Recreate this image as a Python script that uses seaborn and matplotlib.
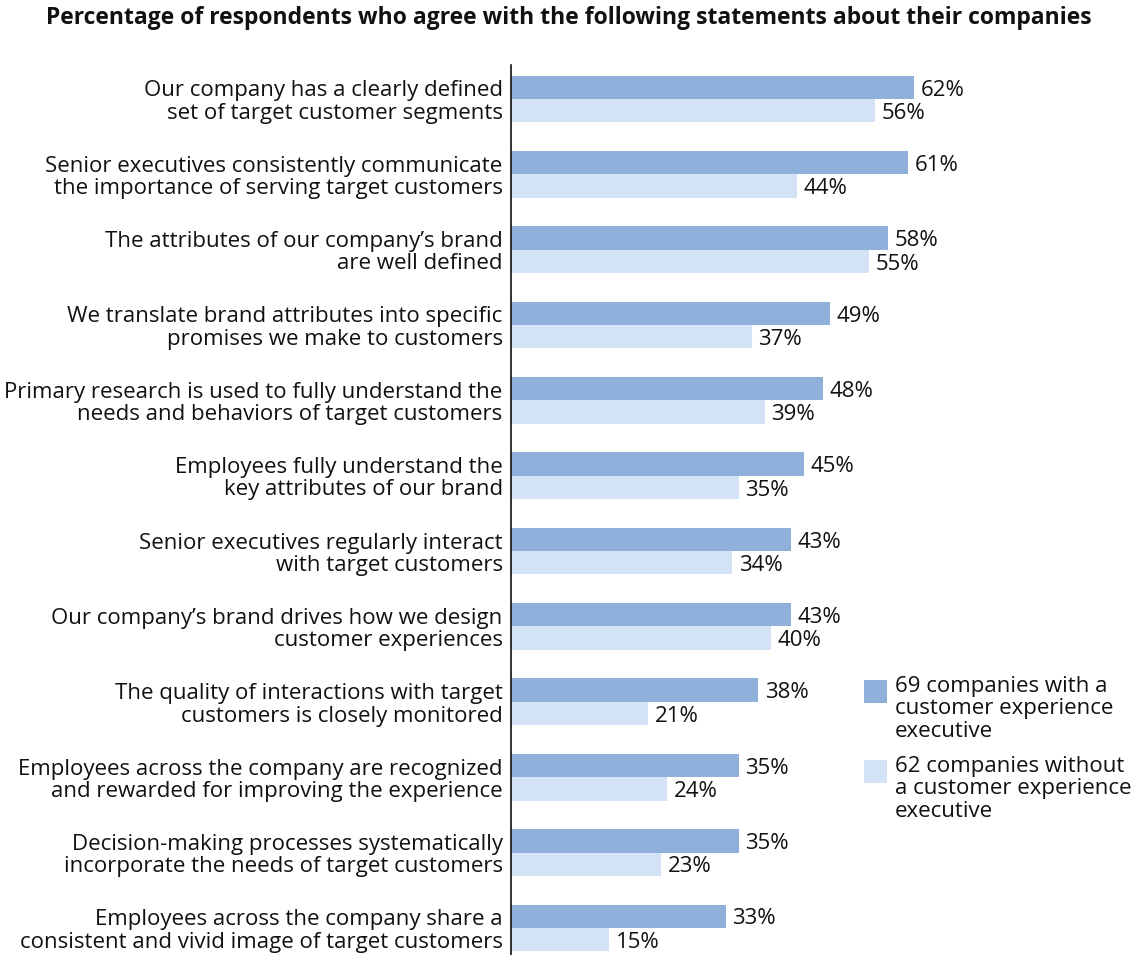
import matplotlib
matplotlib.use("Agg")
import matplotlib.pyplot as plt
from matplotlib.patches import Rectangle
import seaborn as sns
import pandas as pd

statements = [
    "Our company has a clearly defined\nset of target customer segments",
    "Senior executives consistently communicate\nthe importance of serving target customers",
    "The attributes of our company\u2019s brand\nare well defined",
    "We translate brand attributes into specific\npromises we make to customers",
    "Primary research is used to fully understand the\nneeds and behaviors of target customers",
    "Employees fully understand the\nkey attributes of our brand",
    "Senior executives regularly interact\nwith target customers",
    "Our company\u2019s brand drives how we design\ncustomer experiences",
    "The quality of interactions with target\ncustomers is closely monitored",
    "Employees across the company are recognized\nand rewarded for improving the experience",
    "Decision-making processes systematically\nincorporate the needs of target customers",
    "Employees across the company share a\nconsistent and vivid image of target customers",
]
with_exec = [62, 61, 58, 49, 48, 45, 43, 43, 38, 35, 35, 33]
without_exec = [56, 44, 55, 37, 39, 35, 34, 40, 21, 24, 23, 15]
series_names = [
    "69 companies with a\ncustomer experience\nexecutive",
    "62 companies without\na customer experience\nexecutive",
]
colors = ["#8FB0DB", "#D3E2F5"]
title = "Percentage of respondents who agree with the following statements about their companies"

df = pd.DataFrame({
    "statement": statements * 2,
    "value": with_exec + without_exec,
    "group": [series_names[0]] * len(statements) + [series_names[1]] * len(statements),
})

sns.set_theme(style="white")
plt.rcParams["font.family"] = ["Open Sans", "DejaVu Sans"]

FS = 16
W, H = 1138, 955
fig = plt.figure(figsize=(W / 100, H / 100), dpi=100)
ax = fig.add_axes([511 / W, 0, (W - 511) / W, (H - 65) / H])

sns.barplot(data=df, y="statement", x="value", hue="group", palette=colors,
            saturation=1, width=0.62, orient="h", legend=False,
            linewidth=0, edgecolor="none", ax=ax)

# percentage labels just past each bar end
for cont in ax.containers:
    for t in ax.bar_label(cont, fmt="%d%%", padding=5, fontsize=FS, color="#111111"):
        t.xyann = (5, -2)

ax.set_xlim(0, (W - 511) / 6.5)
ax.set_ylim(11.36, -0.45)
ax.set_xlabel("")
ax.set_ylabel("")
ax.set_xticks([])
for s in ["top", "right", "bottom"]:
    ax.spines[s].set_visible(False)
ax.spines["left"].set_color("#111111")
ax.spines["left"].set_linewidth(1.2)
ax.tick_params(axis="y", length=0, pad=6, labelsize=FS, labelcolor="#111111")
for lbl in ax.get_yticklabels():
    lbl.set_horizontalalignment("right")
    lbl.set_multialignment("right")
    lbl.set_linespacing(1.08)

fig.text(569 / W, 1 - 18 / H, title, ha="center", va="center",
         fontsize=16.5, fontweight="bold", color="#111111")

# legend: square swatch beside a three-line label
for i, (name, c) in enumerate(zip(series_names, colors)):
    top = 680 + i * 80
    fig.patches.append(Rectangle((864 / W, 1 - (top + 23) / H), 23 / W, 23 / H,
                                 transform=fig.transFigure, facecolor=c, edgecolor="none"))
    fig.text(895 / W, 1 - (top - 4) / H, name, ha="left", va="top",
             fontsize=FS, linespacing=1.08, color="#111111")

fig.savefig("out.png", dpi=100)
